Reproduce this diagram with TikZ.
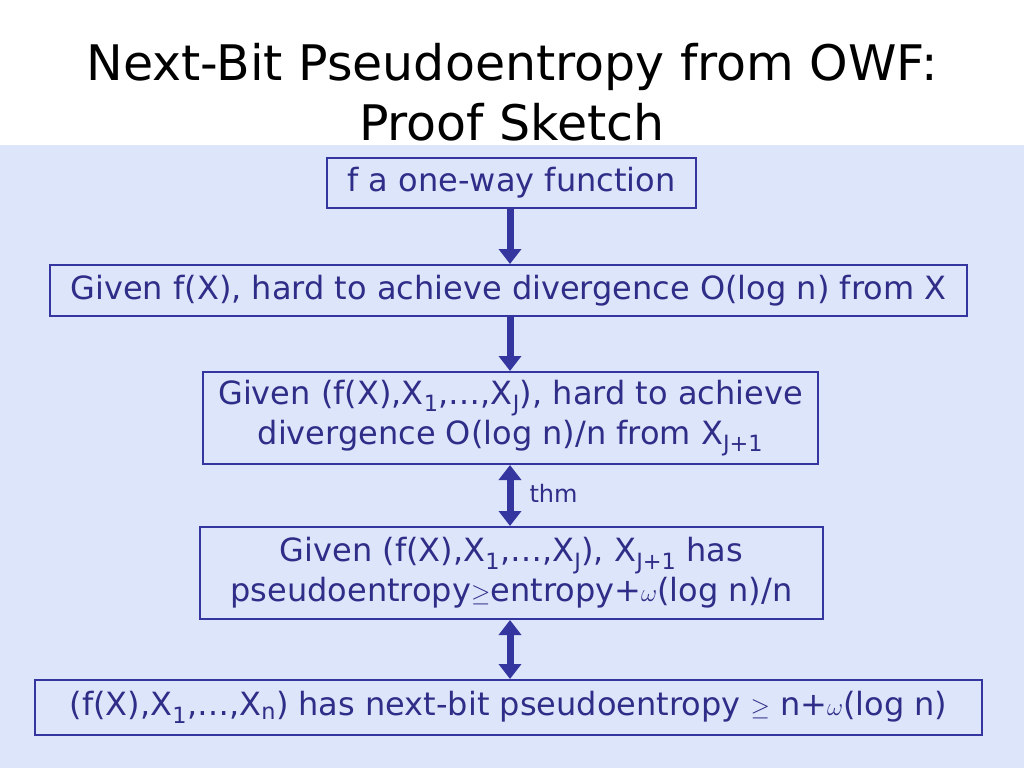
\documentclass[tikz,border=0pt]{standalone}
\usepackage{fontspec}
\setmainfont{DejaVu Sans}
\usetikzlibrary{arrows.meta}
\definecolor{navy}{HTML}{3535A0}
\definecolor{bg}{HTML}{DCE5FA}
\definecolor{txt}{HTML}{2E2E88}
\tikzset{box/.style={draw=navy,line width=2pt,fill=bg,text=txt,font=\fontsize{32}{40}\selectfont,align=center,inner sep=0pt},
 arr/.style={navy,line width=7pt,-{Triangle[width=22pt,length=15pt]}},
 darr/.style={navy,line width=7pt,{Triangle[width=22pt,length=15pt]}-{Triangle[width=22pt,length=15pt]}}}
\begin{document}
\begin{tikzpicture}[x=1pt,y=-1pt]
\useasboundingbox (0,0) rectangle (1024,768);
\fill[white] (0,0) rectangle (1024,145);
\fill[bg] (0,145) rectangle (1024,768);
\node[text=black,font=\fontsize{49}{60}\selectfont,align=center] (title) at (512,92) {Next-Bit Pseudoentropy from OWF:\\Proof Sketch};
\node[box,minimum width=369,minimum height=50] (b1) at (511.5,183) {f a one-way function};
\node[box,minimum width=917,minimum height=51] (b2) at (508.5,290.5) {Given f(X), hard to achieve divergence O(log n) from X};
\node[box,minimum width=615,minimum height=92] (b3) at (510.5,418) {Given (f(X),X\textsubscript{1},…,X\textsubscript{J}), hard to achieve\\divergence O(log n)/n from X\textsubscript{J+1}};
\node[box,minimum width=623,minimum height=92] (b4) at (511.5,573) {Given (f(X),X\textsubscript{1},…,X\textsubscript{J}), X\textsubscript{J+1} has\\pseudoentropy$\geq$entropy+$\omega$(log n)/n};
\node[box,minimum width=947,minimum height=55] (b5) at (508.5,707.5) {(f(X),X\textsubscript{1},…,X\textsubscript{n}) has next-bit pseudoentropy $\geq$ n+$\omega$(log n)};
\draw[arr] (b1.south -| 510,0) -- (b2.north -| 510,0);
\draw[arr] (b2.south -| 510,0) -- (b3.north -| 510,0);
\draw[darr] (b3.south -| 510,0) -- (b4.north -| 510,0);
\draw[darr] (b4.south -| 510,0) -- (b5.north -| 510,0);
\node[text=txt,font=\fontsize{24}{28}\selectfont,anchor=west] (thm) at (526,493) {thm};
\end{tikzpicture}
\end{document}
